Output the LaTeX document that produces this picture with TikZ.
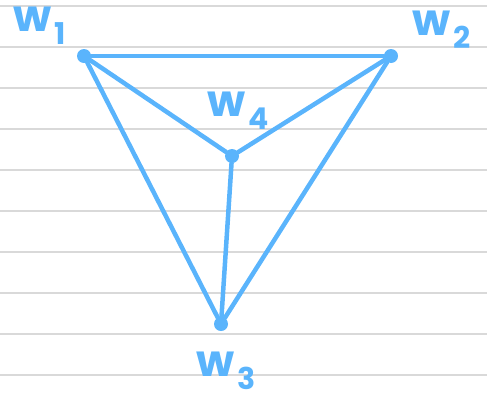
\documentclass[tikz,border=0pt]{standalone}
\usepackage{fontspec}
\setsansfont{Poppins}
\definecolor{inkcol}{HTML}{5AB4FC}
\definecolor{rulecol}{HTML}{D9D9D9}
\newcommand{\wlab}[1]{w\kern3pt\raisebox{-0.3em}{\fontsize{30}{30}\selectfont #1}}

\begin{document}
\begin{tikzpicture}[x=1pt,y=-1pt,
	vertex/.style={circle,fill=inkcol,inner sep=0pt,minimum size=14pt},
	edge/.style={draw=inkcol,line width=4.5pt,line cap=round},
	lbl/.style={text=inkcol,inner sep=0pt,font=\sffamily\bfseries\fontsize{44}{44}\selectfont}]
\useasboundingbox (0,0) rectangle (487,402);
% ruled paper
\foreach \y in {6,47,...,375}
	\draw[rulecol,line width=1.5pt] (0,\y) -- (487,\y);
% vertices
\node[vertex] (w1) at (84,56) {};
\node[vertex] (w2) at (391,56) {};
\node[vertex] (w3) at (221,324) {};
\node[vertex] (w4) at (232,156) {};
% edges
\foreach \a/\b in {w1/w2,w1/w3,w1/w4,w2/w3,w2/w4,w3/w4}
	\draw[edge] (\a) -- (\b);
% labels
\node[lbl] (l1) at (40,26) {\wlab{1}};
\node[lbl] (l2) at (442,30) {\wlab{2}};
\node[lbl] (l3) at (226,371) {\wlab{3}};
\node[lbl] (l4) at (238,111) {\wlab{4}};
\end{tikzpicture}
\end{document}
